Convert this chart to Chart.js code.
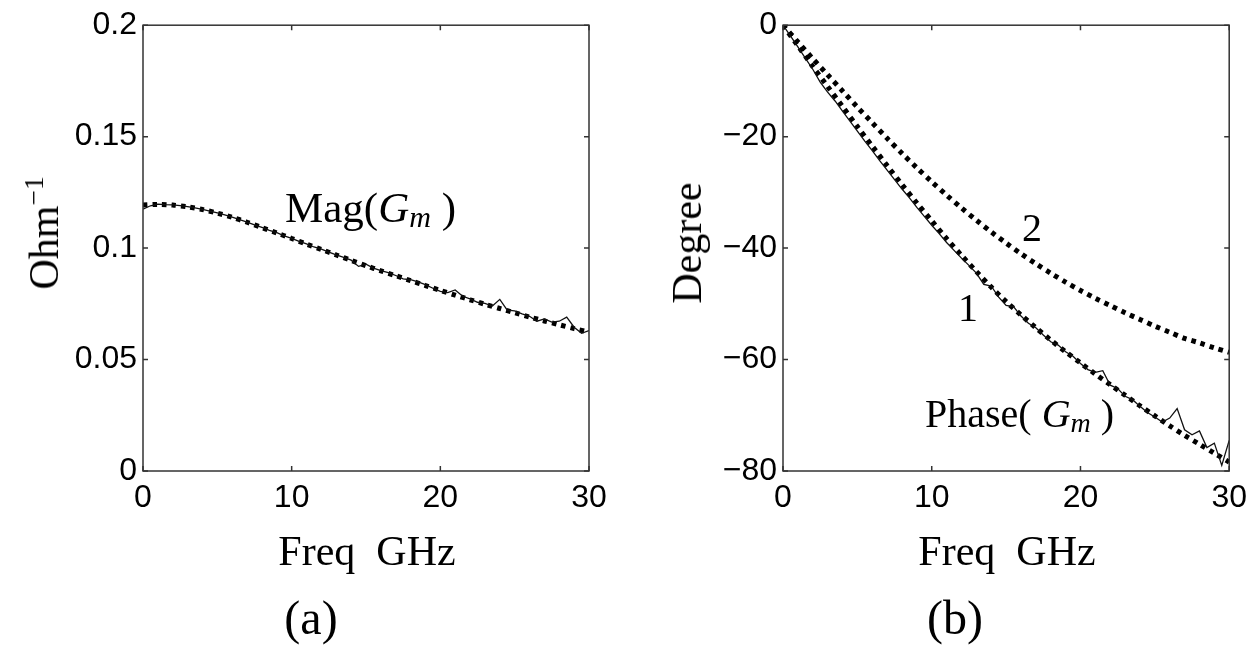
<!DOCTYPE html>
<html>
<head>
<meta charset="utf-8">
<script src="https://cdn.jsdelivr.net/npm/chart.js@4.4.1/dist/chart.umd.min.js"></script>
<style>
  body { margin: 0; background: #fff; width: 1255px; height: 650px; overflow: hidden; position: relative; }
  canvas { position: absolute; top: 0; }
  .lbl { position: absolute; font-family: "Liberation Serif", "Times New Roman", serif; line-height: 1; white-space: pre; color: #000; }
  .sub { font-size: 0.7em; position: relative; top: 0.18em; font-style: italic; }
  .sup { font-size: 0.65em; position: relative; top: -0.55em; }
  .rot { transform: translate(-50%, -50%) rotate(-90deg); }
</style>
</head>
<body>
<canvas id="chartA" width="620" height="650" style="left:0px"></canvas>
<canvas id="chartB" width="615" height="650" style="left:640px"></canvas>

<div class="lbl rot" style="left:44px;top:233px;font-size:42px">Ohm<span class="sup">−1</span></div>
<div class="lbl rot" style="left:687px;top:243px;font-size:42px">Degree</div>
<div class="lbl" style="left:285px;top:186px;font-size:43px">Mag(<i>G</i><span class="sub">m</span> )</div>
<div class="lbl" style="left:925px;top:394px;font-size:40px">Phase( <i>G</i><span class="sub">m</span> )</div>
<div class="lbl" style="left:958px;top:288px;font-size:40px">1</div>
<div class="lbl" style="left:1022px;top:208px;font-size:40px">2</div>
<div class="lbl" style="left:367px;top:530px;font-size:42px;transform:translateX(-50%)">Freq  GHz</div>
<div class="lbl" style="left:1007px;top:530px;font-size:42px;transform:translateX(-50%)">Freq  GHz</div>
<div class="lbl" style="left:311px;top:594px;font-size:48px;transform:translateX(-50%)">(a)</div>
<div class="lbl" style="left:955px;top:594px;font-size:48px;transform:translateX(-50%)">(b)</div>

<script>
// frequency grids (GHz)
const freqFit = [0, 1, 2, 3, 4, 5, 6, 7, 8, 9, 10, 11, 12, 13, 14, 15, 16, 17, 18, 19, 20,
  21, 22, 23, 24, 25, 26, 27, 28, 29, 30];
const freqMeas = [0, 0.5, 1, 1.5, 2, 2.5, 3, 3.5, 4, 4.5, 5, 5.5, 6, 6.5, 7, 7.5, 8, 8.5, 9, 9.5,
  10, 10.5, 11, 11.5, 12, 12.5, 13, 13.5, 14, 14.5, 15, 15.5, 16, 16.5, 17, 17.5, 18, 18.5, 19, 19.5,
  20, 20.5, 21, 21.5, 22, 22.5, 23, 23.5, 24, 24.5, 25, 25.5, 26, 26.5, 27, 27.5, 28, 28.5, 29, 29.5, 30];

// (a) Mag(Gm), Ohm^-1
const magMeas = [0.1175, 0.1190, 0.1197, 0.1195, 0.1194, 0.1191, 0.1186, 0.1180, 0.1174, 0.1166,
  0.1158, 0.1149, 0.1139, 0.1128, 0.1117, 0.1104, 0.1093, 0.1080, 0.1069, 0.1055,
  0.1044, 0.1030, 0.1019, 0.1005, 0.0995, 0.0982, 0.0970, 0.0958, 0.0946, 0.0918,
  0.0928, 0.0910, 0.0899, 0.0890, 0.0877, 0.0862, 0.0858, 0.0848, 0.0836, 0.0820,
  0.0806, 0.0800, 0.0812, 0.0784, 0.0772, 0.0757, 0.0752, 0.0740, 0.0770, 0.0722,
  0.0718, 0.0705, 0.0694, 0.0672, 0.0682, 0.0668, 0.0672, 0.0690, 0.0645, 0.0618,
  0.0630];
const magFit = [0.1193, 0.1196, 0.1193, 0.1185, 0.1173, 0.1157, 0.1138, 0.1116, 0.1092, 0.1068,
  0.1043, 0.1018, 0.0994, 0.0969, 0.0945, 0.0921, 0.0898, 0.0876, 0.0854, 0.0832,
  0.0810, 0.0789, 0.0768, 0.0748, 0.0729, 0.0710, 0.0691, 0.0673, 0.0656, 0.0639,
  0.0623];

// (b) Phase(Gm), degree
const phaseMeas = [0, -1.9, -3.9, -5.9, -7.9, -10.2, -12.0, -13.6, -15.4, -17.2,
  -19.0, -20.8, -22.5, -24.3, -26.0, -27.7, -29.4, -31.0, -32.7, -34.3,
  -35.9, -37.4, -39.0, -40.4, -41.8, -43.1, -44.5, -46.5, -46.8, -48.8,
  -50.3, -50.5, -52.2, -53.5, -54.3, -55.6, -56.8, -57.4, -58.6, -59.4,
  -60.7, -61.8, -62.3, -62.0, -64.6, -65.2, -66.6, -67.2, -68.4, -69.5,
  -70.3, -71.2, -70.5, -68.8, -72.6, -73.5, -72.8, -75.8, -75.0, -79.0,
  -74.5];
const phaseFit1 = [0, -3.7, -7.4, -11.0, -14.6, -18.2, -21.7, -25.2, -28.6, -31.9,
  -35.1, -38.3, -41.3, -44.2, -47.0, -49.6, -52.0, -54.3, -56.5, -58.6,
  -60.6, -62.6, -64.5, -66.4, -68.3, -70.1, -71.9, -73.6, -75.2, -76.8, -78.4];
const phaseFit2 = [0, -3.0, -6.0, -8.9, -11.8, -14.7, -17.5, -20.3, -23.0, -25.6,
  -28.1, -30.5, -32.8, -35.0, -37.1, -39.1, -41.0, -42.8, -44.5, -46.1,
  -47.6, -49.0, -50.3, -51.6, -52.8, -54.0, -55.1, -56.2, -57.0, -57.9, -58.7];

const xTicks = [0, 10, 20, 30];

function pairs(xs, ys) {
  return ys.map((y, i) => ({ x: xs[i], y: y }));
}

// box frame with inward ticks, matlab style
const framePlugin = {
  id: 'frame',
  afterDatasetsDraw(chart) {
    const { ctx, chartArea: a, scales } = chart;
    ctx.save();
    ctx.strokeStyle = '#333';
    ctx.lineWidth = 1.5;
    ctx.strokeRect(a.left, a.top, a.right - a.left, a.bottom - a.top);
    ctx.beginPath();
    scales.x.ticks.forEach(t => {
      const px = scales.x.getPixelForValue(t.value);
      ctx.moveTo(px, a.bottom); ctx.lineTo(px, a.bottom - 5);
      ctx.moveTo(px, a.top); ctx.lineTo(px, a.top + 5);
    });
    scales.y.ticks.forEach(t => {
      const py = scales.y.getPixelForValue(t.value);
      ctx.moveTo(a.left, py); ctx.lineTo(a.left + 5, py);
      ctx.moveTo(a.right, py); ctx.lineTo(a.right - 5, py);
    });
    ctx.stroke();
    ctx.restore();
  }
};

const tickFont = { family: '"Liberation Sans", Arial, sans-serif', size: 32 };

function measLine(data) {
  return { data: data, borderColor: '#111', borderWidth: 1.3, pointRadius: 0, tension: 0, fill: false };
}
function dotLine(data) {
  return { data: data, borderColor: '#000', borderWidth: 5, borderDash: [4.5, 5], pointRadius: 0, tension: 0.3, fill: false, borderCapStyle: 'butt' };
}

function makeChart(id, datasets, yMin, yMax, yStep, padRight) {
  return new Chart(document.getElementById(id), {
    type: 'line',
    data: { datasets: datasets },
    options: {
      responsive: false,
      animation: false,
      layout: { padding: { top: 25, right: padRight, bottom: 0, left: 0 } },
      plugins: { legend: { display: false }, tooltip: { enabled: false } },
      scales: {
        x: {
          type: 'linear', min: 0, max: 30,
          afterBuildTicks: s => { s.ticks = xTicks.map(v => ({ value: v })); },
          afterFit: s => { s.height = 179; },
          grid: { display: false, drawTicks: false },
          border: { display: false },
          ticks: { font: tickFont, color: '#000', padding: 8, maxRotation: 0 }
        },
        y: {
          min: yMin, max: yMax,
          afterFit: s => { s.width = 143; },
          grid: { display: false, drawTicks: false },
          border: { display: false },
          ticks: {
            stepSize: yStep, font: tickFont, color: '#000', padding: 6,
            callback: v => String(Math.round(v * 1000) / 1000).replace('-', '\u2212')
          }
        }
      }
    },
    plugins: [framePlugin]
  });
}

makeChart('chartA', [
  measLine(pairs(freqMeas, magMeas)),
  dotLine(pairs(freqFit, magFit))
], 0, 0.2, 0.05, 31);

makeChart('chartB', [
  measLine(pairs(freqMeas, phaseMeas)),
  dotLine(pairs(freqFit, phaseFit1)),
  dotLine(pairs(freqFit, phaseFit2))
], -80, 0, 20, 23);
</script>
</body>
</html>
